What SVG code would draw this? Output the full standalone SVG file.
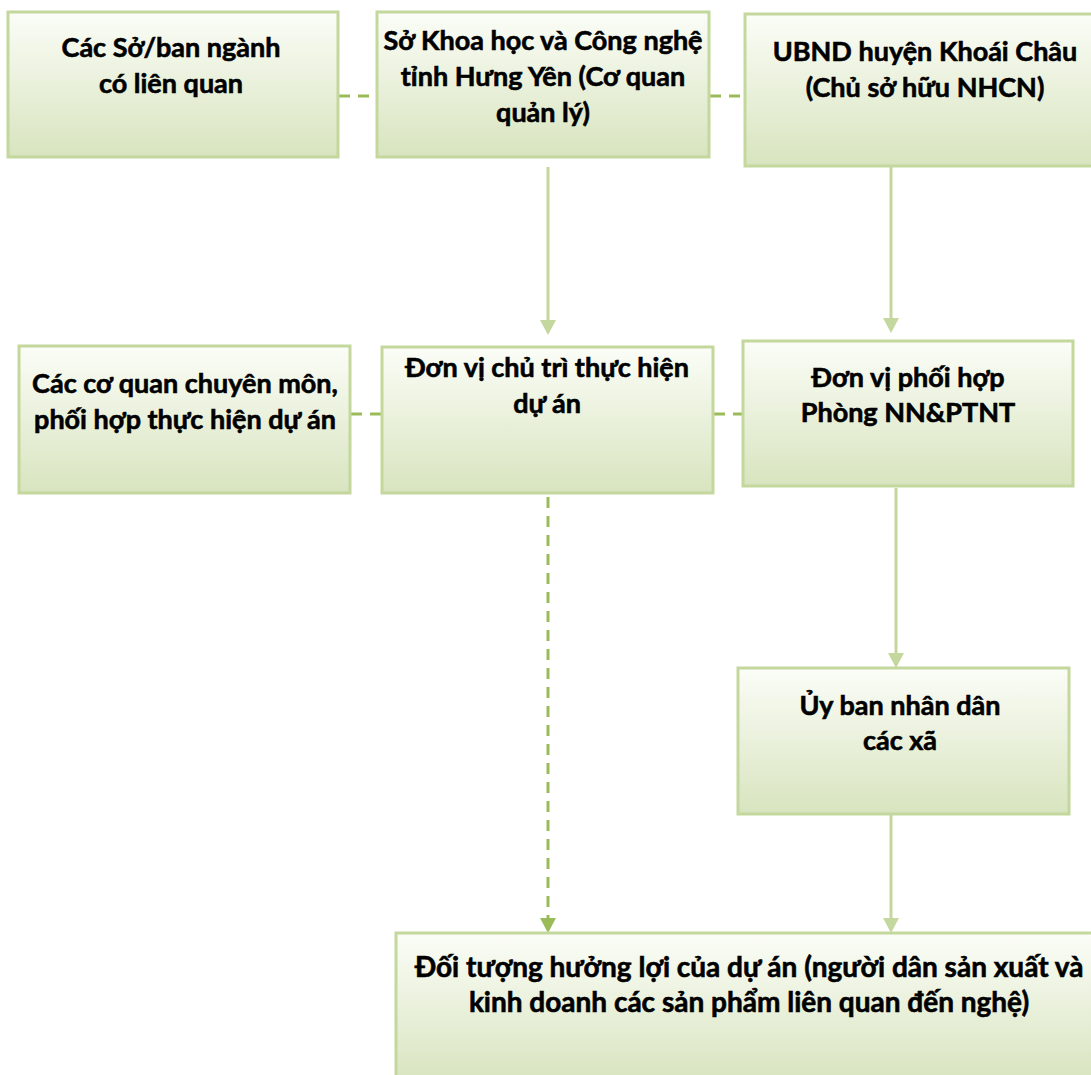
<svg xmlns="http://www.w3.org/2000/svg" width="1091" height="1075" viewBox="0 0 1091 1075">
<defs>
<linearGradient id="g" x1="0" y1="0" x2="0" y2="1">
<stop offset="0" stop-color="#fbfdf7"/>
<stop offset="1" stop-color="#d8e4bf"/>
</linearGradient>
</defs>
<style>
.box{fill:url(#g);stroke:#c4d79d;stroke-width:3}
.t{font-family:Lato,"Liberation Sans",sans-serif;font-weight:bold;font-size:27px;fill:#000;stroke:#000;stroke-width:0.6;text-anchor:middle}
.big{font-size:28px}
.sl{stroke:#c4d79d;stroke-width:3;fill:none}
.sa{fill:#c4d79d}
.dl{stroke:#9bbb59;stroke-width:3;fill:none;stroke-dasharray:11 8}
.da{fill:#9bbb59}
</style>
<rect width="1091" height="1075" fill="#fff"/>
<g id="connectors">
<line class="dl" x1="339" y1="96" x2="377" y2="96"/>
<line class="dl" x1="710" y1="96" x2="745" y2="96"/>
<line class="dl" x1="351" y1="414" x2="382" y2="414"/>
<line class="dl" x1="714" y1="414" x2="743" y2="414"/>
<line class="sl" x1="548" y1="167" x2="548" y2="322"/>
<polygon class="sa" points="540,320 556,320 548,335"/>
<line class="sl" x1="891" y1="166" x2="891" y2="320"/>
<polygon class="sa" points="883,318 899,318 891,333"/>
<line class="sl" x1="896" y1="488" x2="896" y2="655"/>
<polygon class="sa" points="888,653 904,653 896,668"/>
<line class="sl" x1="891" y1="815" x2="891" y2="920"/>
<polygon class="sa" points="883,918 899,918 891,933"/>
<line class="dl" x1="548" y1="497" x2="548" y2="920"/>
<polygon class="da" points="540,918 556,918 548,933"/>
</g>
<g id="n1">
<rect class="box" x="8" y="12" width="330" height="145"/>
<text class="t" x="171" y="57">Các Sở/ban ngành</text>
<text class="t" x="171" y="93">có liên quan</text>
</g>
<g id="n2">
<rect class="box" x="377" y="12" width="332" height="145"/>
<text class="t" x="543" y="50">Sở Khoa học và Công nghệ</text>
<text class="t" x="543" y="86">tỉnh Hưng Yên (Cơ quan</text>
<text class="t" x="543" y="122">quản lý)</text>
</g>
<g id="n3">
<rect class="box" x="745" y="14" width="350" height="152"/>
<text class="t" x="925" y="61">UBND huyện Khoái Châu</text>
<text class="t" x="925" y="97">(Chủ sở hữu NHCN)</text>
</g>
<g id="n4">
<rect class="box" x="19" y="346" width="331" height="147"/>
<text class="t" x="185" y="393">Các cơ quan chuyên môn,</text>
<text class="t" x="185" y="429">phối hợp thực hiện dự án</text>
</g>
<g id="n5">
<rect class="box" x="382" y="347" width="331" height="146"/>
<text class="t" x="547" y="377">Đơn vị chủ trì thực hiện</text>
<text class="t" x="547" y="413">dự án</text>
</g>
<g id="n6">
<rect class="box" x="743" y="341" width="330" height="145"/>
<text class="t" x="908" y="387">Đơn vị phối hợp</text>
<text class="t" x="908" y="422">Phòng NN&amp;PTNT</text>
</g>
<g id="n7">
<rect class="box" x="738" y="668" width="331" height="146"/>
<text class="t" x="900" y="715">Ủy ban nhân dân</text>
<text class="t" x="900" y="750">các xã</text>
</g>
<g id="n8">
<rect class="box" x="396" y="933" width="700" height="150"/>
<text class="t big" x="749" y="977">Đối tượng hưởng lợi của dự án (người dân sản xuất và</text>
<text class="t big" x="749" y="1012">kinh doanh các sản phẩm liên quan đến nghệ)</text>
</g>
</svg>
